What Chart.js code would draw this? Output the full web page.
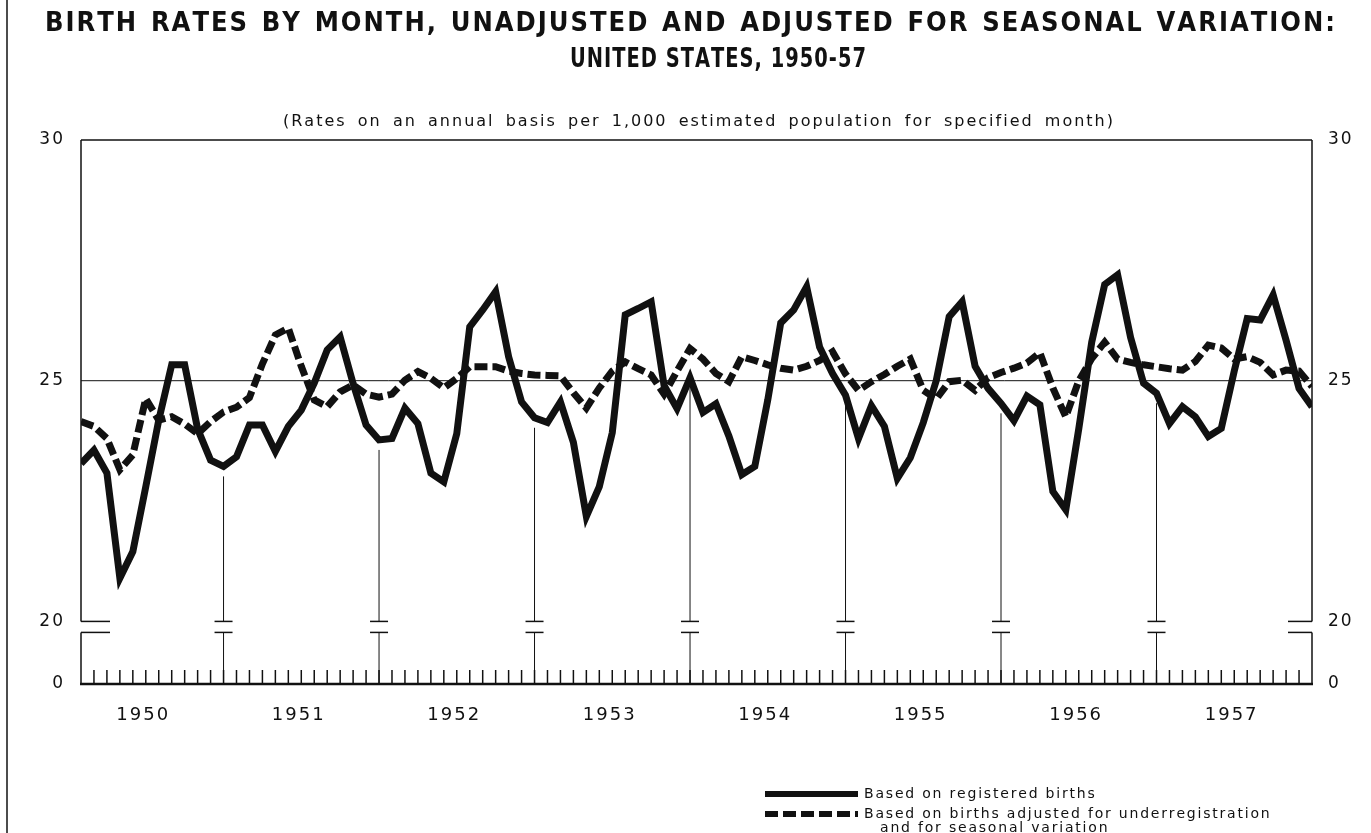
<!DOCTYPE html>
<html>
<head>
<meta charset="utf-8">
<title>Birth rates by month, United States, 1950-57</title>
<script src="https://cdn.jsdelivr.net/npm/chart.js@4.4.1/dist/chart.umd.min.js"></script>
<style>
    html, body { margin: 0; padding: 0; background: #fff; }
    canvas { display: block; }
</style>
</head>
<body>
<canvas id="birthChart" width="1371" height="833"></canvas>
<script>
// Monthly values, Jan 1950 ... Dec 1957 (rates on an annual basis per 1,000 population)
const yearLabels = ['1950', '1951', '1952', '1953', '1954', '1955', '1956', '1957'];

const registered = [
    23.28, 23.56, 23.08, 20.90, 21.45, 22.80, 24.18, 25.33, 25.33, 24.00, 23.35, 23.22,
    23.42, 24.08, 24.08, 23.53, 24.05, 24.39, 24.95, 25.64, 25.91, 24.94, 24.08, 23.77,
    23.80, 24.43, 24.11, 23.08, 22.90, 23.90, 26.12, 26.47, 26.85, 25.50, 24.56, 24.23,
    24.13, 24.56, 23.72, 22.18, 22.80, 23.92, 26.37, 26.50, 26.64, 24.90, 24.42, 25.06,
    24.34, 24.52, 23.85, 23.05, 23.22, 24.60, 26.20, 26.47, 26.95, 25.70, 25.15, 24.70,
    23.80, 24.48, 24.05, 22.97, 23.40, 24.13, 25.00, 26.33, 26.64, 25.30, 24.84, 24.53,
    24.17, 24.68, 24.50, 22.70, 22.32, 24.00, 25.80, 27.00, 27.20, 25.90, 24.95, 24.74,
    24.11, 24.46, 24.25, 23.84, 24.01, 25.20, 26.29, 26.26, 26.78, 25.84, 24.84, 24.46
];

const adjusted = [
    24.15, 24.05, 23.80, 23.15, 23.46, 24.63, 24.18, 24.25, 24.10, 23.90, 24.15, 24.35,
    24.45, 24.65, 25.35, 25.95, 26.09, 25.30, 24.60, 24.46, 24.77, 24.91, 24.72, 24.66,
    24.72, 25.01, 25.19, 25.05, 24.85, 25.05, 25.29, 25.29, 25.29, 25.20, 25.15, 25.12,
    25.11, 25.10, 24.75, 24.43, 24.85, 25.20, 25.39, 25.25, 25.12, 24.72, 25.20, 25.67,
    25.45, 25.15, 24.98, 25.50, 25.42, 25.33, 25.26, 25.22, 25.30, 25.42, 25.60, 25.14,
    24.80, 24.98, 25.13, 25.30, 25.45, 24.80, 24.62, 24.98, 25.01, 24.80, 25.06, 25.17,
    25.26, 25.37, 25.58, 24.85, 24.25, 25.00, 25.46, 25.80, 25.45, 25.38, 25.33, 25.29,
    25.25, 25.22, 25.40, 25.74, 25.68, 25.45, 25.50, 25.38, 25.12, 25.22, 25.20, 24.88
];

// Value ticks; 0 is shown at the foot of the broken axis
const yTickValues = [0, 20, 25, 30];

const titleLines = [
    'BIRTH RATES BY MONTH, UNADJUSTED AND ADJUSTED FOR SEASONAL VARIATION:',
    'UNITED STATES, 1950-57'
];
const subtitle = '(Rates on an annual basis per 1,000 estimated population for specified month)';
const legendLabels = [
    ['Based on registered births'],
    ['Based on births adjusted for underregistration', 'and for seasonal variation']
];

const ink = '#111';
const labelFont = '"DejaVu Sans", sans-serif';
const titleFont = '"Liberation Sans Narrow", "DejaVu Sans Condensed", sans-serif';

// Letters (squeezed by sx) get a fixed gap; word spaces stretch so the line fills `width`
function drawWords(ctx, text, cx, cy, letterGap, width, sx = 1) {
    const chars = [...text];
    const widths = chars.map(c => ctx.measureText(c).width * sx);
    const spaces = chars.filter(c => c === ' ').length;
    const natural = widths.reduce((s, w) => s + w, 0) + letterGap * (chars.length - 1);
    const extra = width && spaces ? Math.max(0, (width - natural) / spaces) : 0;
    const total = natural + extra * spaces;
    let x = cx - total / 2;
    ctx.textAlign = 'left';
    ctx.textBaseline = 'middle';
    chars.forEach((c, i) => {
        if (c !== ' ') {
            ctx.save();
            ctx.translate(x, cy);
            ctx.scale(sx, 1);
            ctx.fillText(c, 0, 0);
            ctx.restore();
        }
        x += widths[i] + letterGap + (c === ' ' ? extra : 0);
    });
}

function drawTracked(ctx, text, x, cy, gap) {
    ctx.textAlign = 'left';
    ctx.textBaseline = 'middle';
    for (const c of text) {
        ctx.fillText(c, x, cy);
        x += ctx.measureText(c).width + gap;
    }
}

function strokeLine(ctx, x1, y1, x2, y2, w) {
    ctx.lineWidth = w;
    ctx.beginPath();
    ctx.moveTo(x1, y1);
    ctx.lineTo(x2, y2);
    ctx.stroke();
}

const draftPlugin = {
    id: 'draft',
    beforeDraw(chart) {
        const ctx = chart.ctx;
        ctx.save();
        ctx.fillStyle = '#fff';
        ctx.fillRect(0, 0, chart.width, chart.height);
        ctx.restore();
        ctx.letterSpacing = '2px';
    },
    beforeDatasetsDraw(chart) {
        const { ctx, chartArea: a, scales: { x, y } } = chart;
        const y30 = y.getPixelForValue(30);
        const y25 = y.getPixelForValue(25);
        const y20 = y.getPixelForValue(20);
        const yBreak = y20 + 11;
        const yBase = a.bottom;

        ctx.save();
        ctx.letterSpacing = '0px';
        ctx.strokeStyle = ink;
        ctx.lineCap = 'butt';

        strokeLine(ctx, a.left, y30, a.right, y30, 1.5);
        strokeLine(ctx, a.left, y25, a.right, y25, 1);
        strokeLine(ctx, a.left - 1, yBase, a.right + 1, yBase, 2.5);

        // side axes, broken between 20 and 0
        [a.left, a.right].forEach((ax, side) => {
            const dir = side === 0 ? 1 : -1;
            const stub = side === 0 ? 29 : 24;
            strokeLine(ctx, ax, y30, ax, y20, 1.5);
            strokeLine(ctx, ax, yBreak, ax, yBase, 1.5);
            strokeLine(ctx, ax, y20, ax + dir * stub, y20, 1.5);
            strokeLine(ctx, ax, yBreak, ax + dir * stub, yBreak, 1.5);
        });

        // month ticks along the base
        for (let i = 1; i < registered.length - 1; i++) {
            const px = x.getPixelForValue(i);
            strokeLine(ctx, px, yBase, px, yBase - 14, 1.5);
        }

        // year dividers, rising to just under the registered-births line
        for (let k = 0; k < yearLabels.length - 1; k++) {
            const i = 12 * k + 11;
            const px = x.getPixelForValue(i);
            const top = y.getPixelForValue(registered[i]) + 10;
            strokeLine(ctx, px, top, px, y20, 1);
            strokeLine(ctx, px, yBreak, px, yBase, 1);
            strokeLine(ctx, px - 9, y20, px + 9, y20, 1.5);
            strokeLine(ctx, px - 9, yBreak, px + 9, yBreak, 1.5);
        }
        ctx.restore();
    },
    afterDraw(chart) {
        const ctx = chart.ctx;
        ctx.save();
        ctx.letterSpacing = '0px';
        ctx.fillStyle = ink;
        ctx.strokeStyle = ink;

        // page edge
        strokeLine(ctx, 7, 0, 7, chart.height, 1.5);

        ctx.font = 'bold 27px ' + titleFont;
        drawWords(ctx, titleLines[0], 690, 24, 2, 1290);
        drawWords(ctx, titleLines[1], 718, 60, 1, 0, 0.8);

        ctx.font = '16px ' + labelFont;
        drawWords(ctx, subtitle, 698, 122, 2, 830);

        // legend
        const rows = [794, 814, 828];
        ctx.lineCap = 'butt';
        strokeLine(ctx, 765, rows[0], 858, rows[0], 6);
        ctx.setLineDash([13, 5]);
        strokeLine(ctx, 765, rows[1], 858, rows[1], 6);
        ctx.setLineDash([]);
        ctx.font = '14px ' + labelFont;
        drawTracked(ctx, legendLabels[0][0], 864, rows[0], 1.8);
        drawTracked(ctx, legendLabels[1][0], 864, rows[1], 1.8);
        drawTracked(ctx, legendLabels[1][1], 880, rows[2], 1.8);
        ctx.restore();
    }
};

const valueAxis = (position, width) => ({
    type: 'linear',
    position: position,
    display: true,
    min: 18.7,
    max: 30,
    grid: { display: false },
    border: { display: false },
    afterBuildTicks: scale => {
        scale.ticks = yTickValues.map(v => ({ value: v === 0 ? scale.min : v }));
    },
    afterFit: scale => { scale.width = width; },
    ticks: {
        padding: 8,
        color: ink,
        font: { family: labelFont, size: 17 },
        callback: (value, index) => String(yTickValues[index])
    }
});

new Chart(document.getElementById('birthChart'), {
    type: 'line',
    data: {
        datasets: [
            {
                label: legendLabels[0].join(' '),
                data: registered.map((v, i) => ({ x: i, y: v })),
                borderColor: ink,
                borderWidth: 7,
                borderJoinStyle: 'miter',
                borderCapStyle: 'butt',
                pointRadius: 0,
                tension: 0,
                yAxisID: 'y'
            },
            {
                label: legendLabels[1].join(' '),
                data: adjusted.map((v, i) => ({ x: i, y: v })),
                borderColor: ink,
                borderWidth: 7,
                borderDash: [13, 5],
                borderJoinStyle: 'miter',
                borderCapStyle: 'butt',
                pointRadius: 0,
                tension: 0,
                yAxisID: 'y'
            }
        ]
    },
    options: {
        responsive: false,
        animation: false,
        devicePixelRatio: 1,
        layout: { padding: { top: 140, left: 0, right: 0, bottom: 0 } },
        plugins: {
            legend: { display: false },
            tooltip: { enabled: false }
        },
        scales: {
            x: {
                type: 'linear',
                min: 0,
                max: registered.length - 1,
                grid: { display: false },
                border: { display: false },
                afterBuildTicks: scale => {
                    scale.ticks = yearLabels.map((_, k) => ({ value: 12 * k + 4.8 }));
                },
                afterFit: scale => { scale.height = 149; },
                ticks: {
                    autoSkip: false,
                    maxRotation: 0,
                    padding: 13,
                    color: ink,
                    font: { family: labelFont, size: 18 },
                    callback: (value, index) => yearLabels[index]
                }
            },
            y: valueAxis('left', 81),
            y2: valueAxis('right', 59)
        }
    },
    plugins: [draftPlugin]
});
</script>
</body>
</html>
